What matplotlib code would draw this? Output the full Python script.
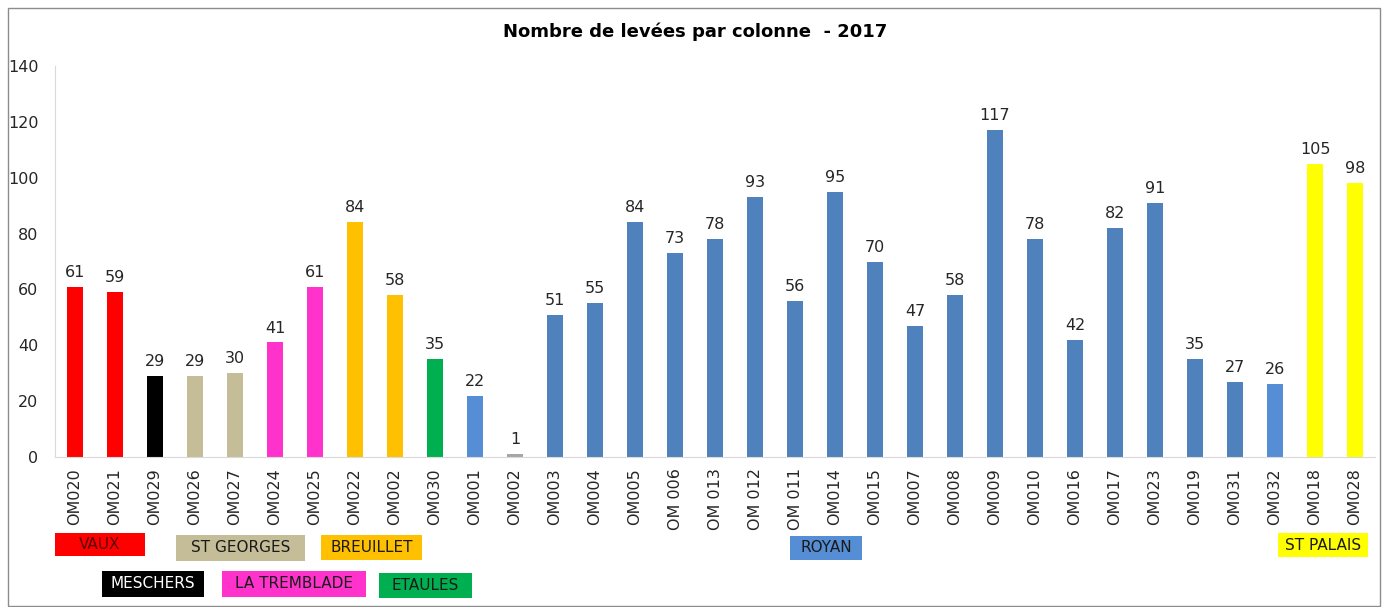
import matplotlib.pyplot as plt
from matplotlib.patches import Rectangle

# colonnes et nombre de levées
colonnes = ["OM020", "OM021", "OM029", "OM026", "OM027", "OM024", "OM025",
            "OM022", "OM002", "OM030", "OM001", "OM002", "OM003", "OM004",
            "OM005", "OM 006", "OM 013", "OM 012", "OM 011", "OM014", "OM015",
            "OM007", "OM008", "OM009", "OM010", "OM016", "OM017", "OM023",
            "OM019", "OM031", "OM032", "OM018", "OM028"]
levees = [61, 59, 29, 29, 30, 41, 61, 84, 58, 35, 22, 1, 51, 55, 84, 73, 78,
          93, 56, 95, 70, 47, 58, 117, 78, 42, 82, 91, 35, 27, 26, 105, 98]
communes = ["VAUX", "VAUX", "MESCHERS", "ST GEORGES", "ST GEORGES",
            "LA TREMBLADE", "LA TREMBLADE", "BREUILLET", "BREUILLET", "ETAULES",
            "ROYAN_CLAIR", "GRIS"] + ["ROYAN"] * 18 + ["ROYAN_CLAIR",
            "ST PALAIS", "ST PALAIS"]

couleurs = {
    "VAUX": "#ff0000",
    "MESCHERS": "#000000",
    "ST GEORGES": "#c4bd97",
    "LA TREMBLADE": "#ff33cc",
    "BREUILLET": "#ffc000",
    "ETAULES": "#00b050",
    "ROYAN": "#4f81bd",
    "ROYAN_CLAIR": "#558ed5",
    "GRIS": "#a6a6a6",
    "ST PALAIS": "#ffff00",
}

# étiquettes de communes (texte, couleur de fond, couleur du texte, x, y, largeur, hauteur en pixels)
etiquettes = [
    ("VAUX", "#ff0000", "#5a0000", 55, 533, 90, 23),
    ("ST GEORGES", "#c4bd97", "#1a1a1a", 176, 535, 129, 26),
    ("BREUILLET", "#ffc000", "#1a1a1a", 321, 535, 101, 25),
    ("MESCHERS", "#000000", "#ffffff", 102, 571, 102, 26),
    ("LA TREMBLADE", "#ff33cc", "#1a1a1a", 222, 571, 144, 26),
    ("ETAULES", "#00b050", "#1a1a1a", 379, 573, 93, 25),
    ("ROYAN", "#558ed5", "#1a1a1a", 790, 536, 72, 24),
    ("ST PALAIS", "#ffff00", "#1a1a1a", 1278, 533, 90, 24),
]

W, H = 1389, 607
fig = plt.figure(figsize=(W / 100, H / 100), dpi=100)
ax = fig.add_axes([55 / W, 1 - 457 / H, 1320 / W, 391 / H])

x = range(len(colonnes))
bars = ax.bar(x, levees, width=0.4, color=[couleurs[c] for c in communes])
for xi, v in zip(x, levees):
    ax.text(xi, v + 2.5, str(v), ha="center", va="bottom", fontsize=11.5,
            color="#262626")

ax.set_xlim(-0.5, len(colonnes) - 0.5)
ax.set_ylim(0, 140)
ax.set_yticks(range(0, 141, 20))
ax.tick_params(axis="y", length=0, labelsize=11.5, pad=12, colors="#262626")
ax.set_xticks(list(x))
ax.set_xticklabels(colonnes, rotation=90, fontsize=11.5, color="#262626")
ax.tick_params(axis="x", length=0, pad=8)
for s in ["top", "right"]:
    ax.spines[s].set_visible(False)
ax.spines["left"].set_color("#d9d9d9")
ax.spines["bottom"].set_color("#d9d9d9")

fig.text(695 / W, 1 - 32 / H, "Nombre de levées par colonne  - 2017",
         ha="center", va="center", fontsize=13, fontweight="bold")

for txt, fond, coul, px, py, pw, ph in etiquettes:
    fig.patches.append(Rectangle((px / W, 1 - (py + ph) / H), pw / W, ph / H,
                                 transform=fig.transFigure, facecolor=fond,
                                 edgecolor="none"))
    fig.text((px + pw / 2) / W, 1 - (py + ph / 2) / H, txt, ha="center",
             va="center", fontsize=11, color=coul)

# cadre du graphique
fig.patches.append(Rectangle((8 / W, 0.002), 1372 / W, 1 - 8 / H - 0.002,
                             transform=fig.transFigure, facecolor="none",
                             edgecolor="#8c8c8c", linewidth=1))

fig.savefig("out.png", dpi=100)
